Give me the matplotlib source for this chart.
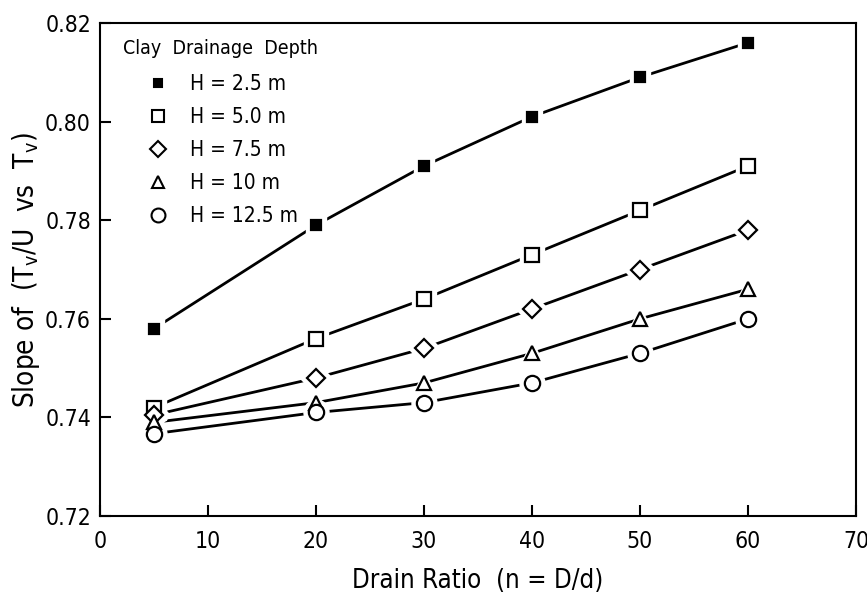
import matplotlib
matplotlib.use("Agg")
import matplotlib.pyplot as plt
from matplotlib.lines import Line2D

plt.rcParams['font.family'] = ['DejaVu Sans']
plt.rcParams['font.stretch'] = 'condensed'
plt.rcParams['mathtext.default'] = 'regular'

drain_ratio = [5, 20, 30, 40, 50, 60]
h_2_5 = [0.758, 0.779, 0.791, 0.801, 0.809, 0.816]
h_5_0 = [0.742, 0.756, 0.764, 0.773, 0.782, 0.791]
h_7_5 = [0.7405, 0.748, 0.754, 0.762, 0.770, 0.778]
h_10 = [0.739, 0.743, 0.747, 0.753, 0.760, 0.766]
h_12_5 = [0.7367, 0.741, 0.743, 0.747, 0.753, 0.760]

labels = ['H = 2.5 m', 'H = 5.0 m', 'H = 7.5 m', 'H = 10 m', 'H = 12.5 m']
series = [h_2_5, h_5_0, h_7_5, h_10, h_12_5]
styles = [
    dict(marker='s', ms=7, mfc='black'),
    dict(marker='s', ms=10, mfc='white'),
    dict(marker='D', ms=9, mfc='white'),
    dict(marker='^', ms=10, mfc='white'),
    dict(marker='o', ms=11, mfc='white'),
]

fig = plt.figure(figsize=(8.67, 5.93), dpi=100)
ax = fig.add_axes([0.1153, 0.1298, 0.872, 0.8314])

for ys, st in zip(series, styles):
    ax.plot(drain_ratio, ys, color='black', lw=2.0, zorder=2)
    # white halo so the line stops short of each marker
    ax.plot(drain_ratio, ys, ls='none', marker=st['marker'], ms=st['ms'] + 7,
            mfc='white', mec='white', zorder=3)
    ax.plot(drain_ratio, ys, ls='none', marker=st['marker'], ms=st['ms'],
            mfc=st['mfc'], mec='black', mew=1.6, zorder=4)

ax.set_xlim(0, 70)
ax.set_ylim(0.72, 0.82)
ax.set_xticks(range(0, 71, 10))
ax.set_yticks([0.72, 0.74, 0.76, 0.78, 0.80, 0.82])
ax.set_yticklabels(['0.72', '0.74', '0.76', '0.78', '0.80', '0.82'])
ax.tick_params(direction='in', length=8, width=1.5, labelsize=16.5,
               top=False, right=False)
ax.tick_params(axis='x', pad=10)
ax.tick_params(axis='y', pad=6.5)
for sp in ax.spines.values():
    sp.set_linewidth(1.5)

ax.set_xlabel('Drain Ratio  (n = D/d)', fontsize=18.5, labelpad=11)
ax.set_ylabel(r'Slope of  (T$_{v}$/U  vs  T$_{v}$)', fontsize=20, labelpad=2)

handles = [Line2D([], [], ls='none', marker=st['marker'], ms=st['ms'] - 1,
                  mfc=st['mfc'], mec='black', mew=1.5) for st in styles]
leg = ax.legend(handles, labels, title='Clay  Drainage  Depth', loc='upper left',
                frameon=False, fontsize=15, title_fontsize=14,
                bbox_to_anchor=(0.0, 1.015), handlelength=3.4,
                handletextpad=-0.18, labelspacing=0.62, borderpad=0.6)
leg._legend_box.align = 'left'
leg._legend_box.sep = 12

fig.savefig('out.png', dpi=100)
